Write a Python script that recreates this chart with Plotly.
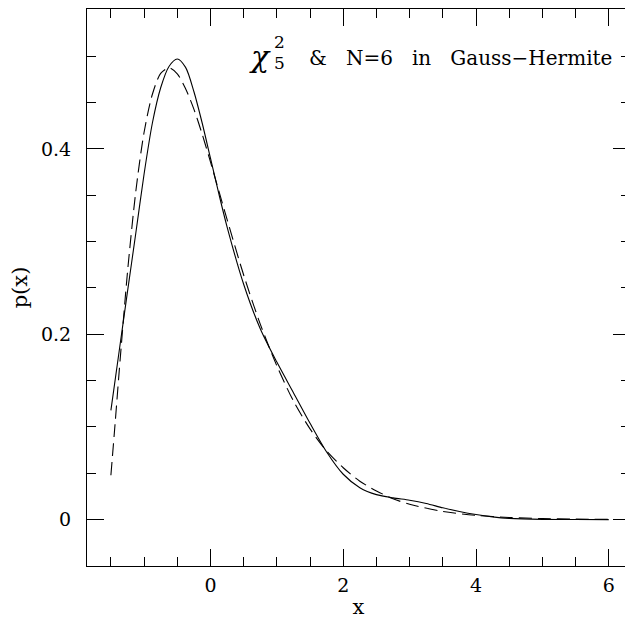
import plotly.graph_objects as go

# Dashed curve (exact density)
x_dashed = [-1.5, -1.4375, -1.375, -1.25, -1.125, -1.0, -0.875, -0.75, -0.625, -0.5,
            -0.375, -0.25, -0.125, 0.0, 0.25, 0.5, 0.75, 1.0, 1.25, 1.5, 1.75, 2.0,
            2.25, 2.5, 2.75, 3.0, 3.5, 4.0, 4.5, 5.0, 5.5, 6.0]
p_dashed = [0.048, 0.103, 0.160, 0.267, 0.354, 0.418, 0.459, 0.4815, 0.4875, 0.481,
            0.465, 0.443, 0.416, 0.386, 0.324, 0.264, 0.211, 0.166, 0.128, 0.098, 0.074, 0.056,
            0.0415, 0.031, 0.0226, 0.0166, 0.0088, 0.0046, 0.0024, 0.0012, 0.0006, 0.0003]

# Solid curve (Gauss-Hermite N=6 approximation)
x_solid = [-1.5, -1.375, -1.25, -1.125, -1.0, -0.875, -0.75, -0.625, -0.5, -0.375, -0.25,
           -0.125, 0.0, 0.125, 0.25, 0.5, 0.75, 1.0, 1.25, 1.5, 1.75, 2.0, 2.25, 2.5, 2.75,
           3.0, 3.25, 3.5, 3.75, 4.0, 4.25, 4.5, 5.0, 5.5, 6.0]
p_solid = [0.118, 0.182, 0.246, 0.309, 0.373, 0.428, 0.466, 0.489, 0.497, 0.488, 0.462,
           0.428, 0.390, 0.352, 0.316, 0.254, 0.206, 0.170, 0.137, 0.104, 0.073, 0.049, 0.0345,
           0.027, 0.0235, 0.021, 0.0175, 0.0128, 0.0088, 0.0055, 0.003, 0.0014, 0.0003, 0.0001, 0.0]

x_range = [-1.86, 6.32]
y_range = [-0.05, 0.551]
x_ticks = [0, 2, 4, 6]
y_ticks = [0, 0.2, 0.4]

FONT = "DejaVu Serif"

fig = go.Figure()
fig.add_trace(go.Scatter(x=x_solid, y=p_solid, mode="lines",
                         line=dict(color="black", width=1.1, shape="spline", smoothing=0.8),
                         showlegend=False, hoverinfo="skip"))
fig.add_trace(go.Scatter(x=x_dashed, y=p_dashed, mode="lines",
                         line=dict(color="black", width=1.1, dash="13px,6px", shape="spline", smoothing=0.8),
                         showlegend=False, hoverinfo="skip"))

axis_common = dict(showline=True, linecolor="black", linewidth=1.2, mirror="allticks",
                   ticks="inside", ticklen=17, tickwidth=1.1, tickcolor="black",
                   showgrid=False, zeroline=False, automargin=False,
                   tickfont=dict(family=FONT, size=19, color="black"))

fig.update_xaxes(range=x_range, tickvals=x_ticks, ticktext=[str(v) for v in x_ticks],
                 minor=dict(dtick=0.5, tick0=0, ticks="inside", ticklen=9, tickwidth=1.1,
                            tickcolor="black", showgrid=False),
                 ticklabelstandoff=2,
                 title=dict(text="x", font=dict(family=FONT, size=21, color="black"), standoff=4),
                 **axis_common)
fig.update_yaxes(range=y_range, tickvals=y_ticks, ticktext=["0", "0.2", "0.4"],
                 minor=dict(dtick=0.05, tick0=0, ticks="inside", ticklen=9, tickwidth=1.1,
                            tickcolor="black", showgrid=False),
                 ticklabelstandoff=11,
                 title=dict(text="p(x)", font=dict(family=FONT, size=21, color="black"), standoff=10),
                 **axis_common)

# The page puts the figure 8 px from the window's top-left corner.
OFF = 8
W, H = 633 - OFF, 619 - OFF
L, R, T, B = 87 - OFF, 3, 1, 53
pw, ph = W - L - R, H - T - B

def px(x):
    return (x - OFF - L) / pw

def py(y):
    return 1 - (y - OFF - T) / ph

# Label in the upper right: chi^2_5 & N=6 in Gauss-Hermite
fig.add_annotation(x=px(260), y=py(56), xref="paper", yref="paper", text="<i>χ</i>",
                   showarrow=False, font=dict(family=FONT, size=30, color="black"),
                   xanchor="center", yanchor="middle")
fig.add_annotation(x=px(279), y=py(42), xref="paper", yref="paper", text="2",
                   showarrow=False, font=dict(family=FONT, size=17, color="black"),
                   xanchor="center", yanchor="middle")
fig.add_annotation(x=px(279), y=py(63), xref="paper", yref="paper", text="5",
                   showarrow=False, font=dict(family=FONT, size=17, color="black"),
                   xanchor="center", yanchor="middle")
fig.add_annotation(x=px(614), y=py(58), xref="paper", yref="paper",
                   text="&amp;\u00a0\u00a0 N=6\u00a0\u00a0 in\u00a0\u00a0 Gauss\u2212Hermite",
                   showarrow=False, font=dict(family=FONT, size=20, color="black"),
                   xanchor="right", yanchor="middle")

fig.update_layout(width=W, height=H, margin=dict(l=L, r=R, t=T, b=B),
                  plot_bgcolor="white", paper_bgcolor="white")

fig.write_html("out.html")
